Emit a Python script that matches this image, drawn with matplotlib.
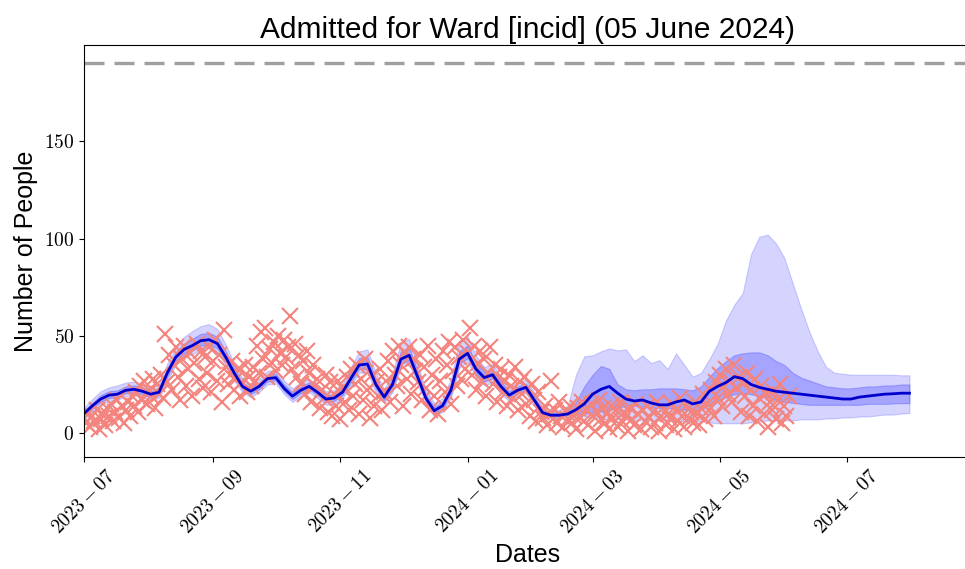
import numpy as np
import pandas as pd
import matplotlib
matplotlib.use("Agg")
import matplotlib.pyplot as plt
import matplotlib.dates as mdates
from matplotlib.ticker import FuncFormatter, FixedLocator

# ---------------- data ----------------
title_text = "Admitted for Ward [incid] (05 June 2024)"
x_label = "Dates"
y_label = "Number of People"
capacity_line = 190

obs_start = "2023-07-01"
obs_values = [
    8, 5, 11, 3, 9, 6, 12, 2, 7, 10,
    4, 13, 9, 15, 6, 11, 17, 8, 14, 5,
    12, 16, 9, 19, 14, 21, 11, 24, 17, 27,
    15, 22, 19, 28, 13, 25, 20, 30, 18, 51,
    26, 40, 22, 35, 44, 29, 17, 38, 45, 24,
    33, 41, 19, 36, 46, 28, 42, 23, 39, 31,
    44, 21, 37, 48, 27, 40, 16, 53, 34, 25,
    30, 37, 22, 28, 33, 19, 26, 35, 21, 29,
    24, 34, 27, 45, 31, 52, 38, 54, 29, 43,
    36, 47, 32, 50, 41, 35, 48, 39, 44, 60,
    33, 46, 29, 40, 25, 37, 20, 42, 31, 16,
    35, 24, 28, 13, 22, 18, 30, 11, 26, 9,
    20, 14, 27, 7, 23, 16, 29, 12, 33, 19,
    25, 35, 10, 28, 17, 38, 22, 8, 30, 14,
    26, 19, 33, 12, 21, 27, 37, 16, 42, 30,
    24, 45, 35, 14, 41, 28, 44, 20, 38, 32,
    26, 40, 17, 34, 23, 45, 12, 30, 19, 38,
    10, 27, 42, 21, 35, 47, 15, 32, 44, 24,
    39, 28, 48, 33, 41, 54, 30, 45, 22, 36,
    42, 27, 38, 19, 31, 44, 25, 35, 16, 29,
    33, 21, 27, 14, 30, 24, 18, 34, 12, 26,
    20, 29, 15, 23, 9, 25, 17, 6, 21, 11,
    8, 14, 4, 10, 27, 7, 12, 5, 16, 9,
    3, 11, 7, 14, 5, 9, 2, 13, 8, 16,
    6, 12, 4, 15, 9, 1, 11, 17, 7, 13,
    5, 10, 2, 14, 8, 12, 3, 16, 6, 11,
    9, 1, 13, 7, 4, 15, 10, 2, 12, 6,
    14, 8, 3, 11, 5, 16, 1, 9, 13, 4,
    10, 7, 15, 2, 12, 6, 18, 9, 3, 14,
    8, 11, 5, 16, 10, 4, 13, 20, 7, 15,
    12, 22, 9, 26, 18, 30, 14, 24, 33, 20,
    27, 16, 35, 23, 29, 11, 25, 19, 31, 9,
    22, 14, 28, 6, 18, 24, 10, 20, 3, 16,
    12, 21, 7, 17, 25, 5, 14, 9, 19,
]

model_start = "2023-07-01"
model_freq = "4D"
median = [
    10, 14, 17.5, 19.5, 20, 22, 22.5, 21.5, 20, 21,
    31, 39, 43, 45, 47.5, 48, 46, 39, 31, 24,
    21.5, 24, 28, 28.5, 23, 19, 22, 24, 21, 17.5,
    18, 21, 28, 35, 35.5, 25, 18.5, 25, 38, 40,
    29, 18, 11.5, 14, 22, 38, 41, 33, 28.5, 30,
    24, 19.5, 22, 23.5, 17, 10.5, 9.2, 9.2, 9.8, 12,
    15, 20, 22.5, 24, 20.5, 17.5, 16.5, 17, 15.5, 14.5,
    14.5, 16, 17, 15, 16, 21.5, 24, 26, 29, 28,
    25, 23.5, 22.5, 21.5, 21, 20.5, 20, 19.5, 19, 18.5,
    18, 17.5, 17.5, 18.5, 19, 19.5, 20, 20.2, 20.5, 20.5,
]
inner_lo = [
    8.5, 12.5, 16, 18, 18.5, 20.5, 21, 20, 18.5, 19.5,
    29, 37, 41, 42.5, 45, 45.5, 43.5, 37, 29, 22.5,
    20, 22.5, 26.5, 27, 21.5, 17.5, 20.5, 22.5, 19.5, 16,
    16.5, 19.5, 26, 33, 33, 23, 17, 23, 35.5, 37.5,
    27, 16.5, 10, 12.5, 20, 35.5, 38.5, 31, 26.5, 28,
    22, 18, 20.5, 22, 15.5, 9.5, 8.5, 8.5, 9, 10,
    10, 10.5, 11, 12, 13, 14, 14, 13.5, 13, 13,
    13, 12.5, 12, 11.5, 12, 14.5, 16.5, 18.5, 20, 20.5,
    20, 19, 18, 17, 16, 15.5, 15, 14.5, 14.5, 14.5,
    14.5, 14.5, 14.5, 14.5, 15, 15, 15, 15.2, 15.4, 15.4,
]
inner_hi = [
    11.5, 15.5, 19.5, 21.5, 22, 24, 24.5, 23.5, 21.5, 23,
    33.5, 41.5, 46, 48.5, 51, 51.5, 49.5, 42, 33.5, 26,
    23.5, 26, 30, 30.5, 25, 21, 24, 26, 23, 19.5,
    20, 23, 31, 38.5, 39, 28, 20.5, 28, 42, 44,
    32, 20, 13.5, 16, 25, 42, 45, 36.5, 31.5, 33,
    26.5, 21.5, 24, 25.5, 19, 12, 10.5, 10.5, 11.5, 16,
    24, 30, 34.5, 33, 25, 22.5, 22, 22.5, 22.5, 23,
    23, 23, 22.5, 22, 24, 29, 33.5, 37, 40, 41,
    41.5, 41.5, 40, 37, 35, 31, 28.5, 27, 25.5, 24,
    23.5, 23, 23, 23.5, 24, 24, 24.5, 24.5, 25, 25,
]
outer_lo = [
    7, 11, 14.5, 16.5, 17, 19, 19.5, 18.5, 17, 18,
    27, 35, 39, 40.5, 43, 43.5, 41.5, 35, 27, 21,
    18.5, 21, 25, 25.5, 20, 16, 19, 21, 18, 14.5,
    15, 18, 24, 31, 31, 21, 15.5, 21, 33.5, 35.5,
    25, 15, 8.5, 11, 18, 33.5, 36.5, 29, 24.5, 26,
    20, 16.5, 19, 20.5, 14, 8.5, 7.5, 7.5, 8, 8,
    8.5, 8, 7.5, 7, 7, 7, 6.5, 6.5, 6.5, 6.5,
    6.5, 6.5, 6, 6, 6, 5.5, 5, 5, 5, 5,
    5.5, 6, 6.5, 6.5, 6.5, 6.5, 7, 7, 7, 7.5,
    7.5, 8, 8, 8.5, 8.5, 9, 9.5, 9.5, 10, 10.3,
]
outer_hi = [
    13, 17.5, 21.5, 23.5, 24.5, 26, 26.5, 25.5, 23.5, 25,
    36, 44, 49.5, 52.5, 55, 56, 53.5, 45.5, 36, 28,
    25.5, 28, 32, 32.5, 27, 23, 26, 28, 25, 21.5,
    22, 25.5, 34, 42, 43, 31, 22.5, 31, 46.5, 48.5,
    35, 22.5, 15.5, 18, 28, 47, 50, 40, 34, 35.5,
    29, 23.5, 26, 27.5, 21, 13.5, 11.5, 12, 14, 30,
    39.5, 40, 42, 43.5, 42.5, 43, 37, 40, 36, 37.5,
    33, 41, 35, 29, 31, 38, 46, 58, 66, 72,
    92, 101, 102, 97.5, 90, 77, 64, 52, 42, 34,
    31, 30.5, 30, 30, 30, 30, 30, 30, 29.7, 29.7,
]

# ---------------- style ----------------
plt.rcParams["font.family"] = ["Liberation Sans", "DejaVu Sans"]
plt.rcParams["mathtext.fontset"] = "cm"

obs_dates = pd.date_range(obs_start, periods=len(obs_values), freq="D")
model_dates = pd.date_range(model_start, periods=len(median), freq=model_freq)

W, H = 965, 569
fig = plt.figure(figsize=(W / 100, H / 100), dpi=100)
ax = fig.add_axes([84 / W, 1 - 457 / H, 888 / W, (457 - 45) / H])

ax.fill_between(model_dates, outer_lo, outer_hi, color="blue", alpha=0.17, linewidth=0.8)
ax.fill_between(model_dates, inner_lo, inner_hi, color="blue", alpha=0.22, linewidth=0.8)
ax.plot(obs_dates, obs_values, linestyle="none", marker="x", markersize=11,
        markeredgewidth=1.5, color="#F4847E")
ax.plot(model_dates, median, color="#0000CC", linewidth=2.0)
ax.axhline(capacity_line, color="#A0A0A0", linewidth=2.4, linestyle=(0, (6, 3)))

ax.set_xlim(pd.Timestamp("2023-07-01"), pd.Timestamp("2024-08-30"))
ax.set_ylim(-12.3, 199.5)
ax.spines["right"].set_visible(False)

ax.xaxis.set_major_locator(mdates.MonthLocator(bymonth=[1, 3, 5, 7, 9, 11]))
ax.xaxis.set_major_formatter(
    FuncFormatter(lambda v, p: "$" + mdates.num2date(v).strftime("%Y-%m") + "$"))
ax.yaxis.set_major_locator(FixedLocator([0, 50, 100, 150]))
ax.yaxis.set_major_formatter(FuncFormatter(lambda v, p: f"${int(round(v))}$"))
ax.tick_params(axis="both", labelsize=14)
plt.setp(ax.get_xticklabels(), rotation=45)

ax.set_title(title_text, fontsize=21.5, pad=5)
ax.set_xlabel(x_label, fontsize=18)
ax.set_ylabel(y_label, fontsize=18)

fig.savefig("out.png", dpi=100)
